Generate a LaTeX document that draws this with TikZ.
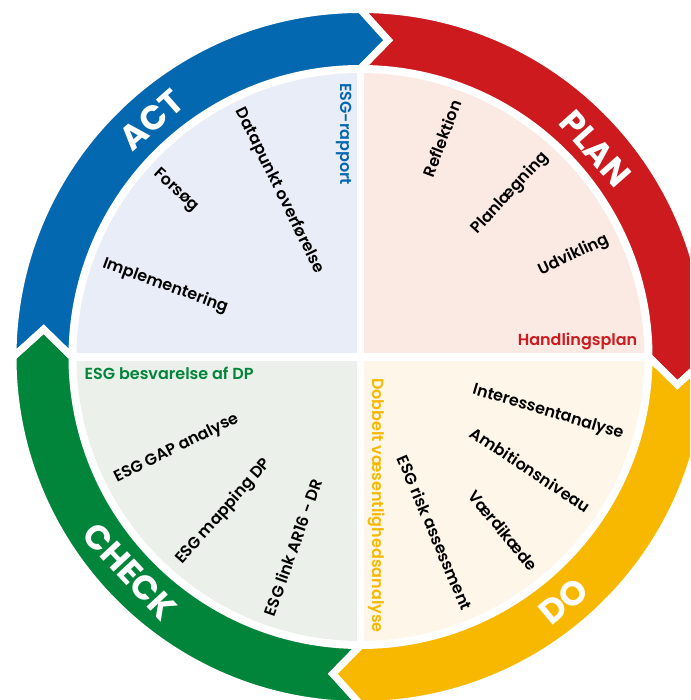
\documentclass[tikz,border=0pt]{standalone}
\usepackage{fontspec}
\setmainfont{Poppins}
\newfontfamily\semifont{Poppins SemiBold}
\usetikzlibrary{positioning}
\definecolor{actblue}{HTML}{0468B1}
\definecolor{planred}{HTML}{CC1A1F}
\definecolor{doyellow}{HTML}{F9B800}
\definecolor{checkgreen}{HTML}{00853A}
\definecolor{actpale}{HTML}{E9EDF8}
\definecolor{planpale}{HTML}{FBE9E3}
\definecolor{dopale}{HTML}{FEF6E9}
\definecolor{checkpale}{HTML}{EBF0EA}

\begin{document}
\begin{tikzpicture}
[
	x=1pt, y=1pt,
	phase/.style = {text=white, font=\bfseries\fontsize{34}{34}\selectfont, inner sep=0pt},
	item/.style = {font=\semifont\fontsize{16}{19}\selectfont, inner sep=0pt},
	title/.style = {font=\semifont\fontsize{16}{19}\selectfont, inner sep=0pt},
	gap/.style = {draw=white, line width=7pt, line join=miter}
]
\useasboundingbox (-360.5,-343) rectangle (329.5,357);
\clip (-360.5,-343) rectangle (329.5,357);

\foreach \a/\c in {180/actblue, 90/planred, 0/doyellow, -90/checkgreen}
	\fill[\c] (\a:347.5) arc[start angle=\a, end angle=\a-90, radius=347.5pt]
		-- ({\a-95}:318) -- ({\a-90}:288.5) arc[start angle=\a-90, end angle=\a, radius=288.5pt]
		-- ({\a-5}:318) -- cycle;
\foreach \a in {180, 90, 0, -90}
	\draw[gap] (\a:347.5) arc[start angle=\a, end angle=\a-90, radius=347.5pt]
		-- ({\a-95}:318) -- ({\a-90}:288.5) arc[start angle=\a-90, end angle=\a, radius=288.5pt]
		-- ({\a-5}:318) -- cycle;

\foreach \a/\c in {90/actpale, 0/planpale, -90/dopale, 180/checkpale}
	\fill[\c] (0,0) -- (\a:284) arc[start angle=\a, end angle=\a+90, radius=284pt] -- cycle;
\draw[white, line width=7.5pt] (-290,0) -- (290,0) (0,-290) -- (0,290);

\node[phase, rotate=41.4] (act) at (131.4:316) {ACT};
\node[phase, rotate=-48.4] (plan) at (41.6:314) {PLAN};
\node[phase, rotate=39.8] (do) at (-50.2:318) {DO};
\node[phase, rotate=-47.1] (check) at (222.9:315) {CHECK};

\node[title, text=actblue, rotate=-90, anchor=west] (rapport) at (-16.5,274) {ESG-rapport};
\node[title, text=planred, anchor=east] (handling) at (277,15.5) {Handlingsplan};
\node[title, text=checkgreen, anchor=west] (besvarelse) at (-276,-16.5) {ESG besvarelse af DP};
\node[title, text=doyellow, rotate=-90, anchor=east] (dobbelt) at (16.5,-276) {Dobbelt væsentlighedsanalyse};

\node[item, rotate=-20, anchor=west] (impl) at (160:274) {Implementering};
\node[item, rotate=-42, anchor=west] (forsog) at (138:276) {Forsøg};
\node[item, rotate=-64, anchor=west] (datapunkt) at (116:276) {Datapunkt overførelse};

\node[item, rotate=69.5, anchor=east] (reflektion) at (69.5:274) {Reflektion};
\node[item, rotate=47.5, anchor=east] (planl) at (47.5:274) {Planlægning};
\node[item, rotate=25.5, anchor=east] (udvikling) at (25.5:274) {Udvikling};

\node[item, rotate=26.5, anchor=west] (gapanalyse) at (206.5:274) {ESG GAP analyse};
\node[item, rotate=48.5, anchor=west] (mapping) at (228.5:274) {ESG mapping DP};
\node[item, rotate=70.5, anchor=west] (link) at (250.5:274) {ESG link AR16 - DR};

\node[item, rotate=-16.5, anchor=east] (interessent) at (-16.5:274) {Interessentanalyse};
\node[item, rotate=-33.5, anchor=east] (ambition) at (-33.5:274) {Ambitionsniveau};
\node[item, rotate=-50.5, anchor=east] (vaerdi) at (-50.5:274) {Værdikæde};
\node[item, rotate=-67, anchor=east] (risk) at (-67:274) {ESG risk assessment};
\end{tikzpicture}
\end{document}
